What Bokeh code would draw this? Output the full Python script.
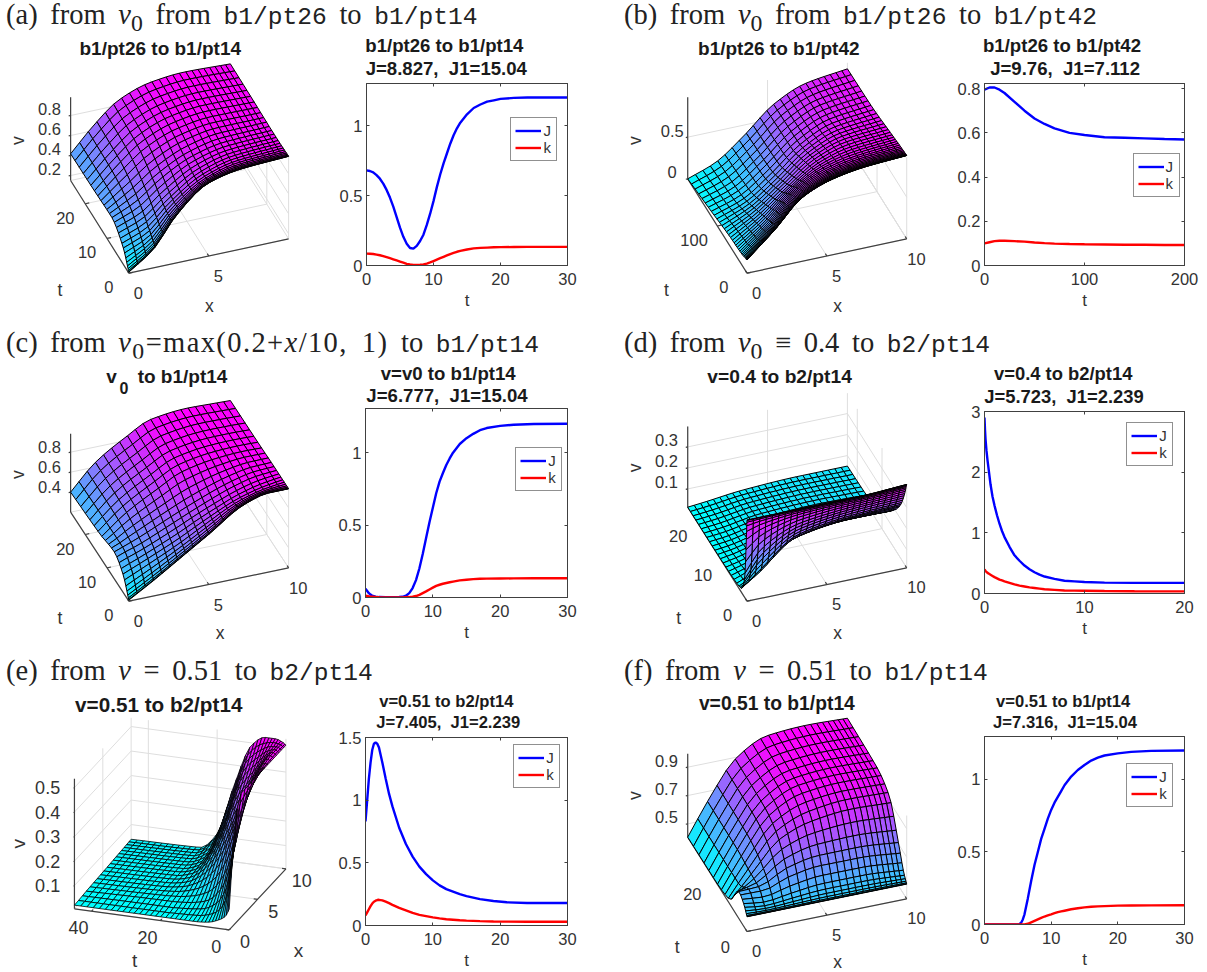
import numpy as np
from bokeh.plotting import figure
from bokeh.embed import file_html
from bokeh.resources import INLINE
from bokeh.layouts import column, row
from bokeh.core.properties import value
from bokeh.models import (ColumnDataSource, Div, FixedTicker, Legend, LegendItem,
                          LinearAxis, NumeralTickFormatter, Range1d)

# ---------- curves J(t), k(t) ----------
t_a = [0, .5, 1, 1.5, 2, 2.5, 3, 3.5, 4, 4.5, 5, 5.5, 6, 6.5, 7, 7.5, 8, 8.5, 9, 9.5, 10, 10.5, 11, 11.5, 12, 12.5, 13, 13.5, 14, 15, 16, 17, 18, 19, 20, 22, 24, 27, 30]
J_a = [.68, .675, .665, .645, .62, .585, .54, .485, .42, .345, .27, .205, .155, .125, .12, .14, .175, .22, .29, .37, .46, .56, .65, .73, .80, .87, .93, .98, 1.02, 1.08, 1.125, 1.15, 1.17, 1.18, 1.19, 1.197, 1.2, 1.2, 1.2]
k_a = [.085, .084, .082, .078, .073, .067, .06, .052, .044, .036, .028, .02, .012, .007, .004, .004, .005, .008, .014, .022, .032, .042, .052, .062, .072, .082, .09, .098, .104, .114, .122, .126, .128, .13, .131, .132, .133, .133, .133]

t_b = [0, 5, 10, 15, 20, 30, 40, 50, 60, 70, 85, 100, 120, 140, 160, 180, 200]
J_b = [.795, .805, .805, .795, .78, .74, .70, .665, .64, .62, .60, .59, .58, .578, .575, .572, .57]
k_b = [.10, .105, .11, .112, .112, .11, .108, .104, .101, .099, .097, .096, .095, .094, .094, .093, .093]

t_c = [0, .25, .5, .75, 1, 1.5, 2, 3, 4, 5, 5.5, 6, 6.5, 7, 7.5, 8, 8.5, 9, 9.5, 10, 10.5, 11, 11.5, 12, 12.5, 13, 14, 15, 16, 17, 18, 20, 22, 25, 30]
J_c = [.06, .045, .03, .02, .012, .006, .003, .002, .002, .003, .005, .012, .03, .065, .12, .2, .3, .41, .52, .62, .72, .80, .86, .915, .96, 1.0, 1.06, 1.1, 1.13, 1.155, 1.17, 1.185, 1.193, 1.198, 1.2]
k_c = [.012, .01, .008, .006, .005, .003, .002, .001, .001, .001, .001, .002, .003, .006, .01, .018, .03, .042, .055, .068, .08, .088, .095, .1, .105, .11, .118, .123, .127, .129, .13, .131, .132, .133, .133]

t_d = [0, .05, .1, .2, .3, .45, .6, .8, 1, 1.25, 1.5, 1.75, 2, 2.5, 3, 3.5, 4, 4.5, 5, 5.5, 6, 7, 8, 9, 10, 12, 15, 20]
J_d = [2.9, 2.7, 2.55, 2.35, 2.2, 2.0, 1.8, 1.6, 1.45, 1.29, 1.15, 1.03, .93, .77, .63, .54, .46, .4, .35, .31, .28, .24, .21, .2, .19, .18, .175, .175]
k_d = [.4, .385, .37, .355, .34, .325, .31, .29, .27, .25, .23, .215, .2, .175, .15, .13, .115, .1, .09, .08, .07, .06, .05, .047, .045, .04, .037, .035]

t_e = [0, .25, .5, .75, 1, 1.25, 1.5, 1.75, 2, 2.5, 3, 3.5, 4, 5, 6, 7, 8, 9, 10, 11, 12, 13, 14, 15, 17, 19, 21, 24, 27, 30]
J_e = [.83, 1.0, 1.17, 1.3, 1.4, 1.45, 1.46, 1.45, 1.42, 1.3, 1.17, 1.05, .95, .78, .65, .55, .47, .41, .36, .32, .29, .27, .25, .235, .21, .195, .185, .18, .18, .18]
k_e = [.08, .105, .13, .155, .175, .19, .198, .203, .205, .2, .19, .178, .165, .14, .12, .1, .085, .075, .065, .057, .05, .046, .042, .039, .035, .032, .031, .03, .03, .03]

t_f = [0, 3, 5, 5.25, 5.5, 5.75, 6, 6.5, 7, 7.5, 8, 8.5, 9, 9.5, 10, 10.5, 11, 11.5, 12, 13, 14, 15, 16, 17, 18, 20, 22, 25, 30]
J_f = [0, 0, 0, .003, .012, .035, .07, .18, .3, .41, .5, .59, .66, .73, .79, .84, .88, .92, .96, 1.02, 1.065, 1.1, 1.13, 1.15, 1.165, 1.18, 1.19, 1.197, 1.2]
k_f = [0, 0, 0, 0, 0, 0, .001, .005, .015, .025, .035, .045, .055, .063, .07, .078, .085, .09, .095, .105, .112, .118, .122, .125, .127, .13, .131, .132, .133]

# ---------- surfaces v(t, x): values at a few (t, x) nodes ----------
sx_a = [0, 1.5, 3, 5, 7, 10]
st_a = [0, 2.7, 8, 16, 26.7]
sv_a = [[.16, .33, .63, .88, .95, .975], [.32, .42, .64, .85, .94, .97], [.437, .55, .72, .88, .95, .965],
        [.425, .64, .82, .94, .98, .97], [.417, .66, .85, .96, .99, .973]]

sx_b = [0, 1.75, 3.5, 5.4, 7.35, 10]
st_b = [0, 20, 60, 120, 200]
sv_b = [[.16, .45, .77, .91, .97, 1.0], [.13, .4, .72, .88, .95, .99], [.11, .3, .55, .8, .92, .96],
        [.06, .17, .4, .69, .86, .92], [0, .125, .37, .675, .84, .908]]

sx_c = [0, 1.5, 3.5, 5, 7.3, 8.75, 10]
st_c = [0, 2.7, 6.7, 13.3, 26.7]
sv_c = [[.21, .35, .55, .7, .93, .99, .99], [.38, .48, .62, .74, .9, .96, .99], [.47, .56, .7, .8, .93, .98, .99],
        [.43, .62, .8, .92, .98, .99, .985], [.4, .64, .84, .96, .997, .99, .983]]

sx_d = [0, 1, 3.5, 7, 10]
st_d = [0, 1, 2.4, 4.8, 9.6, 16.8, 24]
sv_d = [[.4, .4, .4, .4, .41], [.1, .2, .3, .33, .34], [.03, .08, .22, .26, .27], [.02, .05, .17, .2, .2],
        [.015, .03, .09, .12, .11], [.013, .02, .05, .06, .055], [.013, .02, .04, .05, .05]]

sx_e = [0, 1, 2, 5, 8, 10]
st_e = [0, 1, 3, 6, 10, 15, 20, 25, 45]
sv_e = [[.09, .40, .51, .51, .51, .51], [.06, .22, .38, .48, .52, .52], [.04, .1, .2, .42, .5, .53],
        [.025, .05, .1, .32, .45, .53], [.02, .03, .05, .2, .38, .49], [.02, .025, .035, .1, .2, .32],
        [.02, .022, .03, .05, .07, .11], [.02, .022, .03, .035, .04, .045], [.02, .022, .025, .03, .036, .04]]

sx_f = [0, 1.33, 3, 5, 7.4, 10]
st_f = [0, 1.8, 4.7, 10.8, 18, 36]
sv_f = [[.51, .51, .51, .51, .51, .51], [.56, .54, .56, .58, .58, .56], [.596, .6, .68, .72, .72, .695],
        [.434, .62, .83, .92, .95, .94], [.41, .64, .88, .99, 1.01, 1.0], [.406, .644, .891, 1.008, 1.025, 1.015]]

# ---------- tick labels ----------
LINE_TICKS = {
    "a": dict(x=[0, 10, 20, 30], y=[0, .5, 1]), "b": dict(x=[0, 100, 200], y=[0, .2, .4, .6, .8]),
    "c": dict(x=[0, 10, 20, 30], y=[0, .5, 1]), "d": dict(x=[0, 10, 20], y=[0, 1, 2, 3]),
    "e": dict(x=[0, 10, 20, 30], y=[0, .5, 1, 1.5]), "f": dict(x=[0, 10, 20, 30], y=[0, .5, 1]),
}
TT = "<span style=\"font-family:'Liberation Mono';font-size:24.6px;word-spacing:0\">%s</span>"
HEADINGS = {
    "a": "(a) from <i>v</i><sub>0</sub> from " + TT % "b1/pt26" + " to " + TT % "b1/pt14",
    "b": "(b) from <i>v</i><sub>0</sub> from " + TT % "b1/pt26" + " to " + TT % "b1/pt42",
    "c": "(c) from <span style=\"letter-spacing:1.4px\"><i>v</i><sub>0</sub>=max(0.2+<i>x</i>/10, 1)</span> to " + TT % "b1/pt14",
    "d": "(d) from <i>v</i><sub>0</sub> &equiv; 0.4 to " + TT % "b2/pt14",
    "e": "(e) from <i>v</i> = 0.51 to " + TT % "b2/pt14",
    "f": "(f) from <i>v</i> = 0.51 to " + TT % "b1/pt14",
}
LINE_TITLES = {
    "a": ("b1/pt26 to b1/pt14", "J=8.827,&nbsp; J1=15.04"), "b": ("b1/pt26 to b1/pt42", "J=9.76,&nbsp; J1=7.112"),
    "c": ("v=v0 to b1/pt14", "J=6.777,&nbsp; J1=15.04"), "d": ("v=0.4 to b2/pt14", "J=5.723,&nbsp; J1=2.239"),
    "e": ("v=0.51 to b2/pt14", "J=7.405,&nbsp; J1=2.239"), "f": ("v=0.51 to b1/pt14", "J=7.316,&nbsp; J1=15.04"),
}
SURF_TITLES = {"a": "b1/pt26 to b1/pt14", "b": "b1/pt26 to b1/pt42", "d": "v=0.4 to b2/pt14",
               "e": "v=0.51 to b2/pt14", "f": "v=0.51 to b1/pt14"}

FONT = "Liberation Sans"
INK = "#333333"

# ---------- page geometry (pixels of the page) ----------
ROWS = {"a": (36, 322), "b": (36, 322), "c": (358, 650), "d": (358, 650), "e": (686, 972), "f": (686, 972)}
COLS = {"a": (0, 325, 600), "c": (0, 325, 600), "e": (0, 325, 600),
        "b": (600, 945, 1207), "d": (600, 945, 1207), "f": (600, 945, 1207)}
FRAMES = {"a": (366, 566.6, 83, 265.3), "b": (983.7, 1184.1, 83.3, 265), "c": (365.1, 567, 408.3, 596.7),
          "d": (983.7, 1184.1, 410.7, 592.7), "e": (365.1, 567, 736.7, 925), "f": (983.7, 1184.1, 736, 924.3)}
YTOP = {"a": 1.3, "b": .823, "c": 1.305, "d": 3, "e": 1.5, "f": 1.296}
TITLE_POS = {"a": ((444.4, 46), (446.3, 69)), "b": ((1062, 46), (1065.1, 69)), "c": ((448.2, 374), (447, 396)),
             "d": ((1063.2, 374), (1064, 397)), "e": ((446.3, 702), (448.2, 723)), "f": ((1063.2, 702), (1065.1, 723))}
TITLE_SIZE = {"a": 18.6, "b": 18.6, "c": 18.6, "d": 18.4, "e": 16.6, "f": 16.6}
LEG = {"a": (144.4, 104), "b": (148.5, 68.3), "c": (150.2, 105.7), "d": (142.3, 127), "e": (148.3, 137.3), "f": (142.3, 117)}

# views: positions below are measured on enlarged crops (horizontal unit KX[key], vertical unit 1/3 px) relative to 'off'
KL, KR = 600 / 1566, 607 / 1566
KX = {"a": KL, "c": KL, "e": KL, "b": KR, "d": KR, "f": KR}
VIEWS = {
    "a": dict(off=(0, 0), O=(335, 818), X=(752, 715), C=(183, 540), vtop=290, cv=300, vmin=.15, T=26.7,
              xt=[0, 5], tt=[0, 10, 20], vt=[.2, .4, .6, .8], xo=(25, 60), to=(-52, 42), vo=(-55, -20),
              xl=(545, 915), tl=(155, 868), vl=(45, 420), title=(417, 145), mesh=(23, 26, 2.0, .3), lw=1, fs=16.5, ts=19),
    "b": dict(off=(600, 0), O=(378, 818), X=(790, 715), C=(225, 535), vtop=290, cv=250, vmin=0, T=200,
              xt=[0, 5, 10], tt=[0, 100], vt=[0, .5], xo=(25, 60), to=(-60, 42), vo=(-40, -20),
              xl=(612, 915), tl=(170, 868), vl=(90, 420), title=(460, 145), mesh=(24, 34, 2.2, .15), lw=1, fs=16.5, ts=19),
    "c": dict(off=(0, 320), O=(335, 842), X=(752, 742), C=(183, 575), vtop=340, cv=300, vmin=.2, T=26.7,
              xt=[0, 5, 10], tt=[0, 10, 20], vt=[.4, .6, .8], xo=(25, 60), to=(-52, 42), vo=(-55, -15),
              xl=(573, 938), tl=(155, 892), vl=(45, 462), title=None, mesh=(21, 22, 2.0, .1), lw=1, fs=16.5, ts=19),
    "d": dict(off=(600, 320), O=(378, 842), X=(790, 742), C=(225, 560), vtop=318, cv=630, vmin=.013, T=24,
              xt=[0, 5, 10], tt=[0, 10, 20], vt=[.1, .2, .3], xo=(25, 58), to=(-50, 40), vo=(-55, -22),
              xl=(612, 938), tl=(202, 892), vl=(90, 442), title=(462, 167), mesh=(25, 34, 2.2, 0), split=(.45, .14), lw=1, fs=16.5, ts=19.2),
    "e": dict(off=(0, 645), O=(597, 853), X=(745, 670), C=(193, 790), vtop=400, cv=735, vmin=.005, T=45,
              xt=[0, 5, 10], tt=[0, 20, 40], vt=[.1, .2, .3, .4, .5], xo=(41, 35), to=(-34, 50), vo=(-70, 0),
              xl=(778, 915), tl=(350, 945), vl=(48, 595), title=(413, 178), mesh=(18, 34, 1.4, .3), lw=.8, fs=18, ts=20.7),
    "f": dict(off=(600, 645), O=(378, 858), X=(790, 760), C=(225, 575), vtop=325, cv=425, vmin=.406, T=36,
              xt=[0, 5, 10], tt=[0, 20], vt=[.5, .7, .9], xo=(25, 58), to=(-56, 46), vo=(-55, -20),
              xl=(612, 948), tl=(198, 903), vl=(90, 450), title=(455, 173), mesh=(22, 22, 2.2, .4), lw=1, fs=16.5, ts=19.3),
}
TABLES = {"a": (sx_a, st_a, sv_a), "b": (sx_b, st_b, sv_b), "c": (sx_c, st_c, sv_c),
          "d": (sx_d, st_d, sv_d), "e": (sx_e, st_e, sv_e), "f": (sx_f, st_f, sv_f)}


def pchip(xn, yn, xq):
    """Shape-preserving curve through the read nodes, only to place the fine mesh lines."""
    xn, yn = np.asarray(xn, float), np.asarray(yn, float)
    h = np.diff(xn)
    d = np.diff(yn) / h
    m = np.zeros_like(yn)
    m[0], m[-1] = d[0], d[-1]
    for i in range(1, len(xn) - 1):
        if d[i - 1] * d[i] > 0:
            w1, w2 = 2 * h[i] + h[i - 1], h[i] + 2 * h[i - 1]
            m[i] = (w1 + w2) / (w1 / d[i - 1] + w2 / d[i])
    idx = np.clip(np.searchsorted(xn, xq, side="right") - 1, 0, len(h) - 1)
    s = (np.asarray(xq) - xn[idx]) / h[idx]
    return ((2 * s**3 - 3 * s**2 + 1) * yn[idx] + (s**3 - 2 * s**2 + s) * h[idx] * m[idx]
            + (-2 * s**3 + 3 * s**2) * yn[idx + 1] + (s**3 - s**2) * h[idx] * m[idx + 1])


def surface_fig(key):
    vw, (xn, tn, vn) = VIEWS[key], TABLES[key]
    k = KX[key]
    x0, x1, _ = COLS[key]
    y0, y1 = ROWS[key]
    ox, oy = vw["off"]
    P = lambda z: (ox + z[0] * k, oy + z[1] / 3)
    O, X, C = np.array(P(vw["O"])), np.array(P(vw["X"])), np.array(P(vw["C"]))
    ex, et = (X - O) / 10, (C - O) / vw["T"]
    cv = vw["cv"] / 3

    def proj(x, t, v):
        x, t, v = np.asarray(x, float), np.asarray(t, float), np.asarray(v, float)
        return O[0] + ex[0] * x + et[0] * t, O[1] + ex[1] * x + et[1] * t - cv * (v - vw["vmin"])

    p = figure(width=x1 - x0, height=y1 - y0, x_range=Range1d(x0, x1), y_range=Range1d(y1, y0),
               toolbar_location=None, output_backend="svg", min_border=0, frame_align=False)
    p.axis.visible = False
    p.grid.visible = False
    p.outline_line_color = None

    T, vmin = vw["T"], vw["vmin"]
    vmax = vmin + (vw["C"][1] - vw["vtop"]) / vw["cv"]
    gx, gy = [], []

    def seg(a, b):
        xa, ya = proj(*a)
        xb, yb = proj(*b)
        gx.append([float(xa), float(xb)])
        gy.append([float(ya), float(yb)])

    for xt in vw["xt"]:
        seg((xt, 0, vmin), (xt, T, vmin))
        seg((xt, T, vmin), (xt, T, vmax))
    for tt in vw["tt"]:
        seg((0, tt, vmin), (10, tt, vmin))
        seg((10, tt, vmin), (10, tt, vmax))
    for vt in vw["vt"]:
        seg((0, T, vt), (10, T, vt))
        seg((10, T, vt), (10, 0, vt))
    seg((10, 0, vmin), (10, T, vmin))
    seg((0, T, vmin), (10, T, vmin))
    p.multi_line(gx, gy, line_color="#dedede", line_width=1)

    # dark axes and their ticks
    ax, ay = [], []

    def dark(a, b):
        xa, ya = proj(*a)
        xb, yb = proj(*b)
        ax.append([float(xa), float(xb)])
        ay.append([float(ya), float(yb)])

    dark((0, 0, vmin), (10, 0, vmin))
    dark((0, 0, vmin), (0, T, vmin))
    dark((0, T, vmin), (0, T, vmax))
    for xt in vw["xt"]:
        dark((xt, 0, vmin), (xt, T * .025, vmin))
    for tt in vw["tt"]:
        dark((0, tt, vmin), (.25, tt, vmin))
    for vt in vw["vt"]:
        dark((0, T, vt), (-.12, T, vt))
    p.multi_line(ax, ay, line_color="#404040", line_width=1.2)

    # surface mesh
    nx, nt, pw, g = vw["mesh"]
    ux = np.arange(nx + 1) / nx
    xq = 10 * ((1 + g) * ux - g * ux**2)
    ut = np.arange(nt + 1) / nt
    if "split" in vw:
        u0, f0 = vw["split"]
        ft = np.where(ut < u0, f0 * (ut / u0) ** pw, f0 + (1 - f0) * (ut - u0) / (1 - u0))
    else:
        ft = ut ** pw
    tq = T * ft
    V0 = np.array([pchip(xn, r, xq) for r in vn])
    V = np.array([pchip(tn, V0[:, j], tq) for j in range(nx + 1)]).T
    cmin, cmax = V.min(), V.max()
    XX, TG = np.meshgrid(xq, tq)
    SX, SY = proj(XX, TG, V)
    _, FY = proj(XX, TG, vmin)
    quads = []
    for i in range(nt):
        for j in range(nx):
            f = float((V[i:i + 2, j:j + 2].mean() - cmin) / (cmax - cmin))
            col = "#%02x%02xff" % (int(255 * f), int(255 * (1 - f)))
            depth = FY[i:i + 2, j:j + 2].mean()
            quads.append((depth,
                          [SX[i, j], SX[i, j + 1], SX[i + 1, j + 1], SX[i + 1, j]],
                          [SY[i, j], SY[i, j + 1], SY[i + 1, j + 1], SY[i + 1, j]], col))
    quads.sort(key=lambda q: q[0])
    src = ColumnDataSource(dict(xs=[[float(a) for a in q[1]] for q in quads],
                                ys=[[float(a) for a in q[2]] for q in quads],
                                c=[q[3] for q in quads]))
    p.patches("xs", "ys", source=src, fill_color="c", line_color="black", line_width=vw["lw"])

    # tick labels and axis names
    tx, ty, ts = [], [], []

    def lab(pt, off, s):
        a, b = proj(*pt)
        tx.append(float(a) + off[0] * k)
        ty.append(float(b) + off[1] / 3)
        ts.append(s)

    for xt in vw["xt"]:
        lab((xt, 0, vmin), vw["xo"], str(xt))
    for tt in vw["tt"]:
        lab((0, tt, vmin), vw["to"], str(tt))
    for vt in vw["vt"]:
        lab((0, T, vt), vw["vo"], ("%g" % vt))
    tkw = dict(text_font=value(FONT), text_color=INK, text_align="center", text_baseline="middle")
    p.text(tx, ty, text=ts, text_font_size="%gpx" % vw["fs"], **tkw)
    xlx, xly = P(vw["xl"])
    tlx, tly = P(vw["tl"])
    vlx, vly = P(vw["vl"])
    p.text([xlx, tlx], [xly, tly], text=["x", "t"], text_font_size="%gpx" % (vw["fs"] + 1), **tkw)
    p.text([vlx], [vly], text=["v"], angle=np.pi / 2, text_font_size="%gpx" % (vw["fs"] + 1), **tkw)

    bkw = dict(text_font=value(FONT), text_font_style="bold", text_color="#1a1a1a",
               text_align="center", text_baseline="middle")
    if key == "c":
        p.text([ox + 290 * k], [oy + 168 / 3], text=["v"], text_font_size="19px", **bkw)
        p.text([ox + 322 * k], [oy + 203 / 3], text=["0"], text_font_size="16px", **bkw)
        p.text([ox + 475 * k], [oy + 168 / 3], text=["to b1/pt14"], text_font_size="19px", **bkw)
    else:
        tp = P(vw["title"])
        p.text([tp[0]], [tp[1]], text=[SURF_TITLES[key]], text_font_size="%gpx" % vw["ts"], **bkw)
    return p


def line_fig(key, t, J, k):
    _, x0, x1 = COLS[key]
    y0, y1 = ROWS[key]
    fl, fr, ft, fb = FRAMES[key]
    tk = LINE_TICKS[key]
    top = 10                            # room above the frame for a tick label sitting on its top edge
    head = round(ft - y0) - top         # strip above the figure, holding the two title lines
    p = figure(width=x1 - x0, height=y1 - y0 - head, x_range=Range1d(tk["x"][0], tk["x"][-1]),
               y_range=Range1d(0, YTOP[key]), toolbar_location=None, output_backend="svg", frame_align=False,
               min_border_left=round(fl - x0), min_border_right=round(x1 - fr),
               min_border_top=top, min_border_bottom=round(y1 - fb), x_axis_label="t",
               border_fill_color=None)
    p.grid.visible = False
    p.outline_line_color = "#404040"
    p.xaxis.ticker = FixedTicker(ticks=tk["x"])
    p.yaxis.ticker = FixedTicker(ticks=tk["y"])
    p.yaxis.formatter = NumeralTickFormatter(format="0.[0]")
    for ax in (p.xaxis[0], p.yaxis[0]):
        ax.major_tick_in, ax.major_tick_out, ax.minor_tick_in, ax.minor_tick_out = 3, 0, 0, 0
        ax.axis_line_color = "#404040"
        ax.major_tick_line_color = "#404040"
        ax.major_label_text_font = FONT
        ax.major_label_text_font_size = "16.5px"
        ax.major_label_text_color = INK
        ax.major_label_standoff = 7
    p.yaxis.major_label_standoff = 4
    p.xaxis.axis_label_text_font = FONT
    p.xaxis.axis_label_text_font_style = "normal"
    p.xaxis.axis_label_text_font_size = "17px"
    p.xaxis.axis_label_text_color = INK
    p.xaxis.axis_label_standoff = 3
    for side, ticks in (("above", tk["x"]), ("right", tk["y"])):
        a = LinearAxis(ticker=FixedTicker(ticks=ticks), major_tick_in=3, major_tick_out=0, minor_tick_in=0,
                       minor_tick_out=0, major_label_overrides={v: "" for v in ticks},
                       major_label_text_font_size="0px",
                       axis_line_color="#404040", major_tick_line_color="#404040", major_label_standoff=0)
        p.add_layout(a, side)
    r1 = p.line(t, J, line_color="#0000ff", line_width=2.4)
    r2 = p.line(t, k, line_color="#ff0000", line_width=2.4)
    leg = Legend(items=[LegendItem(label="J", renderers=[r1]), LegendItem(label="k", renderers=[r2])],
                 location=LEG[key], border_line_color="#222222", border_line_width=1, padding=4, margin=0,
                 spacing=0, glyph_width=26, glyph_height=17, label_height=17, label_width=9, label_standoff=2,
                 label_text_font=FONT, label_text_font_size="15px", label_text_color=INK,
                 background_fill_alpha=1)
    p.add_layout(leg, "center")
    # the two title lines, as real text over the frame
    spans = ""
    for (a, b), s in zip(TITLE_POS[key], LINE_TITLES[key]):
        spans += ("<span style=\"position:absolute;left:%.1fpx;top:%.1fpx;transform:translate(-50%%,-50%%);"
                  "white-space:nowrap\">%s</span>" % (a - x0, b - y0, s))
    d = Div(text="<div style=\"position:relative;width:%dpx;height:%dpx\">%s</div>" % (x1 - x0, head, spans),
            width=x1 - x0, height=head, margin=(0, 0, 0, 0),
            styles={"font-family": "'%s'" % FONT, "font-weight": "bold", "color": "#1a1a1a",
                    "font-size": "%gpx" % TITLE_SIZE[key], "line-height": "20px", "overflow": "visible"})
    return column(d, p, spacing=0, margin=(0, 0, 0, 0))


def heading(key, w, h, top):
    left = 6 if w == 600 else 24
    return Div(text=HEADINGS[key], width=w, height=h, margin=(0, 0, 0, 0),
               styles={"font-family": "'Liberation Serif'", "font-size": "28.5px", "color": "#222222",
                       "padding-left": "%dpx" % left, "padding-top": "%dpx" % top, "line-height": "30px",
                       "white-space": "nowrap", "box-sizing": "border-box", "word-spacing": "5.5px"})


DATA = {"a": (t_a, J_a, k_a), "b": (t_b, J_b, k_b), "c": (t_c, J_c, k_c),
        "d": (t_d, J_d, k_d), "e": (t_e, J_e, k_e), "f": (t_f, J_f, k_f)}


def panels(l, r):
    return row(surface_fig(l), line_fig(l, *DATA[l]), surface_fig(r), line_fig(r, *DATA[r]), spacing=0, margin=(0, 0, 0, 0))


page = column(
    row(heading("a", 600, 36, 0), heading("b", 607, 36, 0), spacing=0, margin=(0, 0, 0, 0)),
    panels("a", "b"),
    row(heading("c", 600, 36, 6), heading("d", 607, 36, 6), spacing=0, margin=(0, 0, 0, 0)),
    panels("c", "d"),
    row(heading("e", 600, 36, 6), heading("f", 607, 36, 6), spacing=0, margin=(0, 0, 0, 0)),
    panels("e", "f"),
    spacing=0, margin=(0, 0, 0, 0),
)

open("out.html", "w").write(file_html(page, INLINE))
